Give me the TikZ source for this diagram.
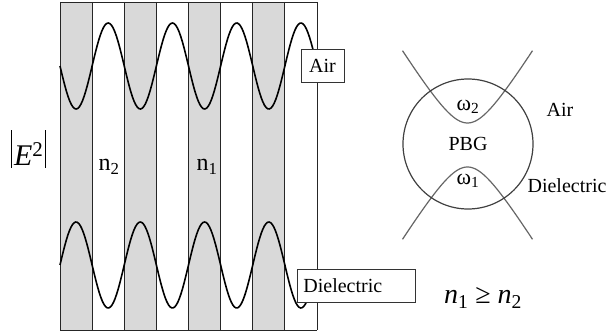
\documentclass[tikz,border=0pt]{standalone}
\usepackage{fontspec}
\setmainfont{Liberation Serif}
\usepackage{tikz}
\usetikzlibrary{positioning}

\begin{document}
\begin{tikzpicture}[x=1pt, y=-1pt, node distance=37pt, font=\fontsize{20}{24}\selectfont]
  \tikzstyle{layer} = [fill=black!15]
  \tikzstyle{edge} = [line width=0.8pt, black!85]
  \tikzstyle{wave} = [line width=1.6pt, black]
  \tikzstyle{tag} = [draw=black!80, fill=white, line width=0.8pt, inner sep=0pt, minimum height=33pt]
  \tikzstyle{band} = [line width=1.2pt, black!60]
  \tikzstyle{index} = [font=\fontsize{24}{28}\selectfont]
  \useasboundingbox (0,0) rectangle (608,331);
  % layers of the stack
  \foreach \i in {0,...,3}
    \fill[layer] ({60+64.25*\i},2) rectangle ++(32.125,328);
  \foreach \i in {0,...,8}
    \draw[edge] ({60+32.125*\i},2) -- ++(0,328);
  \draw[edge] (60,2) -- (317,2) (60,330) -- (317,330);
  % field intensity
  \draw[wave] plot[domain=60:316, samples=160] (\x, {66+43*sin(5.6031*(\x-60))});
  \draw[wave] plot[domain=60:310, samples=160] (\x, {265-43*sin(5.6031*(\x-60))});
  \node[tag, minimum width=43pt] (air) at (322.5,65.5) {Air};
  \node[tag, anchor=west, text width=106pt, align=left, inner xsep=6pt] (diel) at (297,286) {Dielectric};
  \node[index] (nB) at (109,167) {n\textsubscript{2}};
  \node[index] (nA) at (207,167) {n\textsubscript{1}};
  \node[anchor=base west, inner sep=0pt, font=\fontsize{30}{34}\selectfont] (field) at (11,166)
    {\rule[-2pt]{0.9pt}{38pt}\hspace{2pt}\textit{E}\textsuperscript{2}\hspace{2pt}\rule[-2pt]{0.9pt}{38pt}};
  \node (rel) at (483,298) {\fontsize{28}{32}\selectfont\textit{n}\textsubscript{1} ≥ \textit{n}\textsubscript{2}};
  % band gap
  \draw[band] plot[domain=-65:65, samples=80] ({467.5+\x}, {123-1.62*(sqrt(625+\x*\x)-25)});
  \draw[band] plot[domain=-65:65, samples=80] ({467.5+\x}, {167+1.62*(sqrt(625+\x*\x)-25)});
  \node[circle, draw=black!75, line width=1.2pt, minimum size=130pt, inner sep=0pt] (gap) at (468,144) {};
  \node (pbg) at (gap.center) {PBG};
  \node[above of=pbg, font=\fontsize{22}{26}\selectfont] (wB) {ω\textsubscript{2}};
  \node[below of=pbg, font=\fontsize{22}{26}\selectfont] (wA) {ω\textsubscript{1}};
  \node (airR) at (560,110) {Air};
  \node (dielR) at (567,186) {Dielectric};
\end{tikzpicture}
\end{document}
